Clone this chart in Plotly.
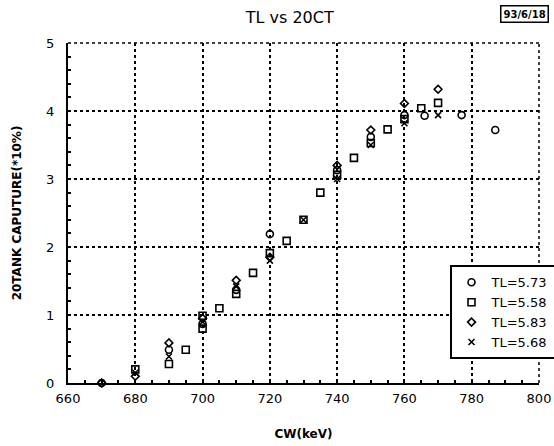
import plotly.graph_objects as go

# TL=5.73 (circles)
x_573 = [670, 690, 700, 710, 720, 740, 750, 760, 766, 777, 787]
y_573 = [0.0, 0.49, 0.87, 1.37, 2.19, 3.13, 3.62, 3.94, 3.93, 3.94, 3.72]
# TL=5.58 (squares)
x_558 = [680, 690, 695, 700, 700, 705, 710, 715, 720, 725, 730, 735, 740, 745, 750, 755, 760, 765, 770]
y_558 = [0.2, 0.28, 0.49, 0.8, 0.99, 1.1, 1.31, 1.62, 1.91, 2.09, 2.40, 2.80, 3.06, 3.31, 3.53, 3.73, 3.88, 4.04, 4.12]
# TL=5.83 (diamonds)
x_583 = [670, 680, 690, 700, 710, 720, 740, 750, 760, 770]
y_583 = [0.0, 0.1, 0.59, 0.95, 1.51, 1.85, 3.2, 3.72, 4.11, 4.32]
# TL=5.68 (crosses)
x_568 = [680, 690, 700, 710, 720, 730, 740, 750, 760, 770]
y_568 = [0.15, 0.39, 0.9, 1.42, 1.8, 2.4, 3.0, 3.5, 3.82, 3.94]

x_ticks = [660, 680, 700, 720, 740, 760, 780, 800]
y_ticks = [0, 1, 2, 3, 4, 5]

FONT = "DejaVu Sans"
fig = go.Figure()
series = [
    ("TL=5.73", x_573, y_573, "circle-open", 7),
    ("TL=5.58", x_558, y_558, "square-open", 7),
    ("TL=5.83", x_583, y_583, "diamond-open", 6),
    ("TL=5.68", x_568, y_568, "x-thin-open", 6),
]
for name, xs, ys, sym, sz in series:
    fig.add_trace(go.Scatter(
        x=xs, y=ys, mode="markers", name=name,
        marker=dict(symbol=sym, size=sz, color="black", line=dict(color="black", width=1.6)),
        cliponaxis=False,
    ))

fig.update_layout(
    width=554, height=446,
    margin=dict(l=68, r=15, t=43, b=63, autoexpand=False),
    paper_bgcolor="white", plot_bgcolor="white",
    font=dict(family=FONT, color="black", size=12),
    title=dict(text="TL vs 20CT", x=0.523, xanchor="center", y=0.962, yanchor="middle",
               font=dict(size=16, family=FONT)),
    showlegend=True,
    legend=dict(x=0.81, y=0.346, xanchor="left", yanchor="top",
                bordercolor="black", borderwidth=2, bgcolor="white",
                font=dict(size=13, family=FONT), itemwidth=30, tracegroupgap=0),
)
fig.update_xaxes(
    range=[660, 800], tickvals=x_ticks, ticktext=[str(v) for v in x_ticks],
    showgrid=True, gridcolor="black", griddash="dot", gridwidth=1.5,
    showline=True, linecolor="black", linewidth=2, mirror=False,
    ticks="inside", ticklen=3, tickcolor="black", tickwidth=1.5,
    minor=dict(dtick=5, ticks="inside", ticklen=3, tickcolor="black", showgrid=False),
    zeroline=False, tickfont=dict(size=13, family=FONT), ticklabelstandoff=2,
    title=dict(text="<b>CW(keV)</b>", font=dict(size=12, family=FONT), standoff=25),
)
fig.update_yaxes(
    range=[0, 5], tickvals=y_ticks, ticktext=[str(v) for v in y_ticks],
    showgrid=True, gridcolor="black", griddash="dot", gridwidth=1.5,
    showline=True, linecolor="black", linewidth=2, mirror=False,
    ticks="inside", ticklen=3, tickcolor="black", tickwidth=1.5,
    minor=dict(dtick=0.2, ticks="inside", ticklen=3, tickcolor="black", showgrid=False),
    zeroline=False, tickfont=dict(size=13, family=FONT), ticklabelstandoff=9,
    title=dict(text="<b>20TANK CAPUTURE(*10%)</b>", font=dict(size=12, family=FONT), standoff=22),
)
# dotted frame on top and right edges (gridlines at the range ends)
fig.add_shape(type="line", xref="paper", yref="paper", x0=0, x1=1, y0=1, y1=1,
              line=dict(color="black", width=1.5, dash="dot"))
fig.add_shape(type="line", xref="paper", yref="paper", x0=1, x1=1, y0=0, y1=1,
              line=dict(color="black", width=1.5, dash="dot"))
fig.add_annotation(
    text="<b>93/6/18</b>", xref="paper", yref="paper", x=1.021, y=1.085,
    xanchor="right", yanchor="middle", showarrow=False,
    font=dict(size=10, family=FONT), bordercolor="black", borderwidth=1.5,
    borderpad=2, bgcolor="white",
)
fig.write_html("out.html")
